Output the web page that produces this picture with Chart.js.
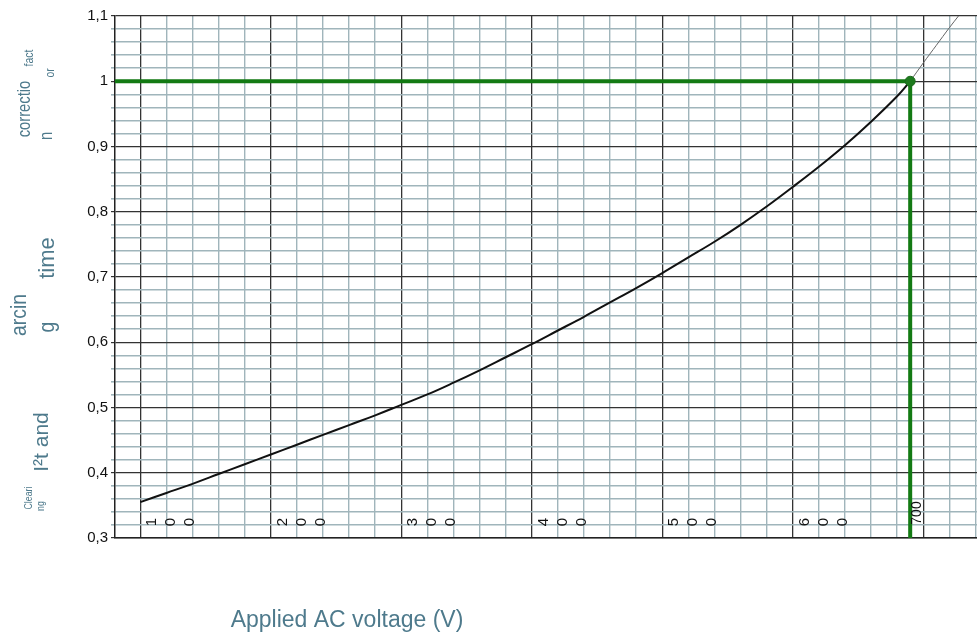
<!DOCTYPE html>
<html lang="en">
<head>
  <meta charset="UTF-8" />
  <title>Correction factor vs applied AC voltage</title>
  <script src="https://cdn.jsdelivr.net/npm/chart.js"></script>
  <style>
    body {
      margin: 0;
      background: #fff;
      font-family: 'Liberation Sans', Arial, sans-serif;
    }
    #wrap { width: 977px; height: 636px; }
  </style>
</head>
<body>
  <div id="wrap"><canvas id="factorChart" width="977" height="636"></canvas></div>

  <script>
    // values, every 20 V
    const voltage = [100, 120, 140, 160, 180, 200, 220, 240, 260, 280, 300, 320, 340, 360, 380,
                     400, 420, 440, 460, 480, 500, 520, 540, 560, 580, 600, 620, 640, 660, 680, 690]
    const factor = [0.355, 0.369, 0.383, 0.398, 0.413, 0.428, 0.443, 0.458, 0.473, 0.488, 0.504, 0.520, 0.538, 0.557, 0.577,
                    0.597, 0.618, 0.639, 0.661, 0.683, 0.706, 0.730, 0.754, 0.780, 0.808, 0.838, 0.869, 0.902, 0.938, 0.977, 1.0]
    // thin continuation past the rated point
    const extVoltage = [690, 700, 710, 720, 727]
    const extFactor = [1.0, 1.028, 1.055, 1.082, 1.1]
    // rated voltage marker
    const ratedVoltage = 690
    const ratedFactor = 1.0
    const majorVoltages = [100, 200, 300, 400, 500, 600, 700]

    const textColor = '#4e7a8c'
    const isMajorY = v => Math.abs(v * 10 - Math.round(v * 10)) < 1e-6
    const isMajorX = v => Math.abs(v / 100 - Math.round(v / 100)) < 1e-6

    const extraText = {
      id: 'extraText',
      afterDatasetsDraw(chart) {
        const { ctx, scales: { x } } = chart
        const rot = (text, cx, cy, size, sx, color) => {
          ctx.save()
          ctx.translate(cx, cy)
          ctx.rotate(-Math.PI / 2)
          ctx.scale(sx, 1)
          ctx.font = `${size}px 'Liberation Sans', Arial, sans-serif`
          ctx.fillStyle = color
          ctx.textAlign = 'center'
          ctx.textBaseline = 'middle'
          ctx.fillText(text, 0, 0)
          ctx.restore()
        }

        // voltage digits written inside the plot
        majorVoltages.forEach(v => {
          const px = x.getPixelForValue(v)
          if (v === 700) {
            rot('700', px - 6, 513, 14, 1, '#111')
            return
          }
          String(v).split('').forEach((d, i) => rot(d, px + 12 + i * 19, 522, 15, 1, '#111'))
        })

        // broken y axis title
        rot('fact', 29, 58, 13, 0.8, textColor)
        rot('or', 50, 73, 13, 0.8, textColor)
        rot('correctio', 25.5, 109, 18, 0.82, textColor)
        rot('n', 47, 136, 18, 0.82, textColor)
        rot('time', 47.5, 258, 22, 1, textColor)
        rot('arcin', 20, 315, 22, 0.88, textColor)
        rot('g', 48, 327, 22, 0.88, textColor)
        rot('I²t and', 42.5, 442, 21, 1, textColor)
        rot('Cleari', 29, 498, 11, 0.8, textColor)
        rot('ng', 41, 506, 11, 0.8, textColor)

        // x axis title
        ctx.save()
        ctx.font = "23px 'Liberation Sans', Arial, sans-serif"
        ctx.fillStyle = textColor
        ctx.textAlign = 'center'
        ctx.textBaseline = 'middle'
        ctx.fillText('Applied AC voltage (V)', 347, 621)
        ctx.restore()
      }
    }

    new Chart(factorChart, {
      type: 'line',
      data: {
        datasets: [
          {
            label: 'rated',
            data: [{ x: 80.6, y: ratedFactor }, { x: ratedVoltage, y: ratedFactor }, { x: ratedVoltage, y: 0.3 }],
            borderColor: '#137a13',
            borderWidth: 4,
            pointRadius: 0,
            tension: 0,
            order: 3
          },
          {
            label: 'curve',
            data: voltage.map((v, i) => ({ x: v, y: factor[i] })),
            borderColor: '#111',
            borderWidth: 2,
            pointRadius: 0,
            tension: 0.4,
            order: 2
          },
          {
            label: 'extension',
            data: extVoltage.map((v, i) => ({ x: v, y: extFactor[i] })),
            borderColor: '#666',
            borderWidth: 1,
            pointRadius: 0,
            tension: 0.3,
            order: 2
          },
          {
            label: 'point',
            data: [{ x: ratedVoltage, y: ratedFactor }],
            showLine: false,
            pointRadius: 5,
            pointBackgroundColor: '#1d7a1d',
            pointBorderColor: '#1d6a1d',
            order: 1
          }
        ]
      },
      options: {
        responsive: false,
        animation: false,
        layout: { autoPadding: false, padding: { top: 16, right: 0, left: 0, bottom: 0 } },
        plugins: {
          legend: { display: false },
          tooltip: { enabled: false }
        },
        scales: {
          x: {
            type: 'linear',
            min: 80.6,
            max: 741.2,
            ticks: { stepSize: 20, display: false, includeBounds: false },
            grid: {
              drawTicks: false,
              color: c => isMajorX(c.tick.value) ? '#333' : '#a0b5bb',
              lineWidth: c => isMajorX(c.tick.value) ? 1.3 : 1.4
            },
            border: { color: '#222', width: 1.5 },
            afterFit: s => { s.height = 98 }
          },
          y: {
            min: 0.3,
            max: 1.1,
            ticks: {
              stepSize: 0.02,
              padding: 3,
              color: '#111',
              font: { size: 15, family: "'Liberation Sans', Arial, sans-serif" },
              autoSkip: false,
              callback: v => isMajorY(v) ? String(Math.round(v * 10) / 10).replace('.', ',') : ''
            },
            grid: {
              tickLength: 4,
              color: c => isMajorY(c.tick.value) ? '#333' : '#a0b5bb',
              lineWidth: c => isMajorY(c.tick.value) ? 1.2 : 1.6
            },
            border: { color: '#222', width: 1.5 },
            afterFit: s => { s.width = 115 }
          }
        }
      },
      plugins: [extraText]
    })
  </script>
</body>
</html>
